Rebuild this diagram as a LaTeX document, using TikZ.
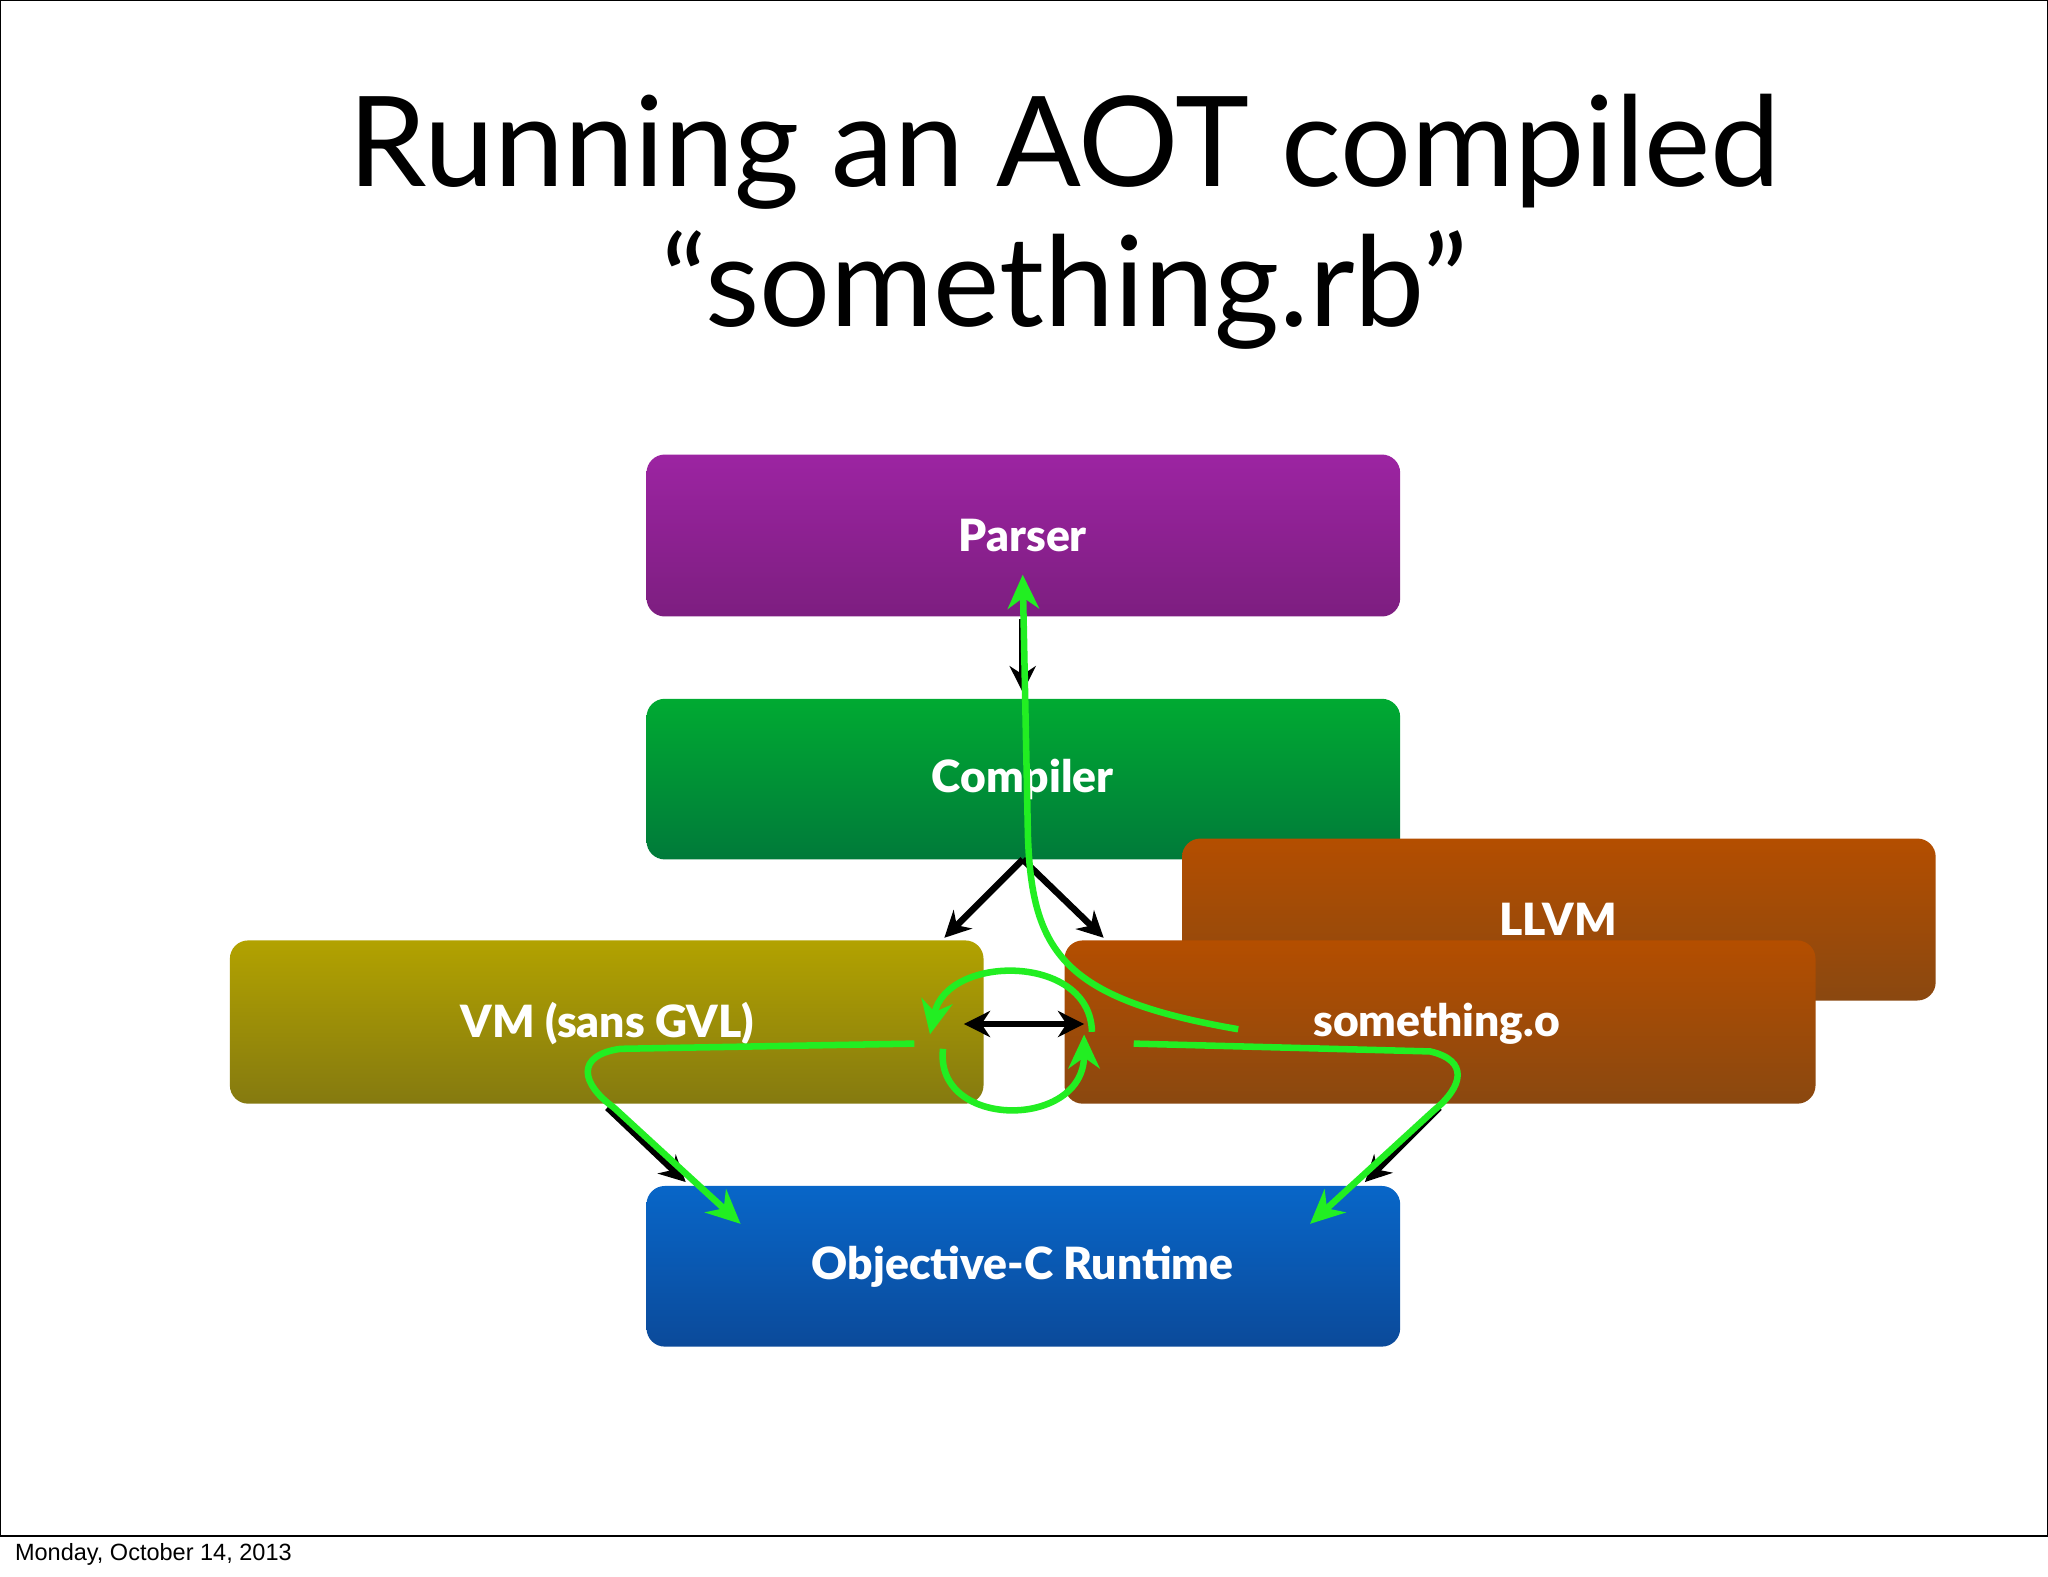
\documentclass[tikz,border=0pt]{standalone}
\usepackage{fontspec}
\usetikzlibrary{arrows.meta}
\setmainfont{Lato}
\newfontfamily\boxfont{Lato Black}
\newfontfamily\footfont{Liberation Sans}
\begin{document}
\begin{tikzpicture}[x=1pt,y=-1pt,
  box/.style={rounded corners=14pt, line width=0pt},
  lbl/.style={text=white, font=\boxfont\fontsize{34}{36}\selectfont},
  blk/.style={line width=5pt, -{Stealth[length=20pt,width=20pt]}},
  grn/.style={line width=5pt, draw=gr, -{Stealth[length=26pt,width=24pt]}}]
\definecolor{gr}{HTML}{22EE22}
\useasboundingbox (0,0) rectangle (1568,1207);
\fill[white] (0,0) rectangle (1568,1207);
\draw[line width=1pt] (0.5,0.5) rectangle (1567.5,1176);
\node[anchor=west, font=\footfont\fontsize{18}{20}\selectfont] (foot) at (8,1190) {Monday, October 14, 2013};
\node[align=center, font=\fontsize{96}{107}\selectfont] (title) at (815,170) {Running an AOT compiled\\“something.rb”};
% boxes
\shade[box, top color={rgb,255:red,156;green,36;blue,162}, bottom color={rgb,255:red,125;green,30;blue,128}] (495,348) rectangle (1072,472);
\node[lbl] (parser) at (783,410) {Parser};
\shade[box, top color={rgb,255:red,0;green,170;blue,50}, bottom color={rgb,255:red,0;green,122;blue,58}] (495,535) rectangle (1072,658);
\node[lbl] (compiler) at (783,597) {Compiler};
\shade[box, top color={rgb,255:red,180;green,78;blue,0}, bottom color={rgb,255:red,138;green,72;blue,16}] (905,642) rectangle (1482,766);
\node[lbl] (llvm) at (1193,704) {LLVM};
\shade[box, top color={rgb,255:red,180;green,78;blue,0}, bottom color={rgb,255:red,138;green,72;blue,16}] (815,720) rectangle (1390,845);
\node[lbl] (so) at (1100,784) {something.o};
\shade[box, top color={rgb,255:red,178;green,162;blue,0}, bottom color={rgb,255:red,133;green,122;blue,16}] (176,720) rectangle (753,845);
\node[lbl] (vm) at (465,784) {VM (sans GVL)};
\shade[box, top color={rgb,255:red,8;green,102;blue,200}, bottom color={rgb,255:red,11;green,74;blue,154}] (495,908) rectangle (1072,1031);
\node[lbl] (objc) at (783,970) {Objective-C Runtime};
% black arrows
\coordinate (c1) at (783,474); \coordinate (c2) at (783,530);
\draw[blk] (c1) -- (c2);
\coordinate (c3) at (783,658);
\coordinate (c4) at (723,718); \coordinate (c5) at (845,718);
\draw[blk] (c3) -- (c4); \draw[blk] (c3) -- (c5);
\coordinate (d1) at (738,784); \coordinate (d2) at (830,784);
\draw[blk,{Stealth[length=20pt,width=20pt]}-{Stealth[length=20pt,width=20pt]}] (d1) -- (d2);
\coordinate (e1) at (465,848); \coordinate (e2) at (525,905);
\draw[blk] (e1) -- (e2);
\coordinate (f1) at (1102,848); \coordinate (f2) at (1045,905);
\draw[blk] (f1) -- (f2);
% green paths
\coordinate (g1) at (948,788); \coordinate (g2) at (783,440);
\draw[grn] (g1) .. controls (815,765) and (790,730) .. (787,640) -- (g2);
\coordinate (h1) at (700,799); \coordinate (h2) at (567,937);
\draw[grn] (h1) -- (475,803) .. controls (440,808) and (445,830) .. (470,848) -- (h2);
\coordinate (k1) at (868,799); \coordinate (k2) at (1003,937);
\draw[grn] (k1) -- (1095,805) .. controls (1125,812) and (1120,832) .. (1098,850) -- (k2);
\coordinate (m1) at (836,790); \coordinate (m2) at (712,792);
\draw[grn] (m1) .. controls (835,730) and (725,730) .. (m2);
\coordinate (n1) at (722,803); \coordinate (n2) at (830,792);
\draw[grn] (n1) .. controls (715,865) and (830,865) .. (n2);
\end{tikzpicture}
\end{document}
